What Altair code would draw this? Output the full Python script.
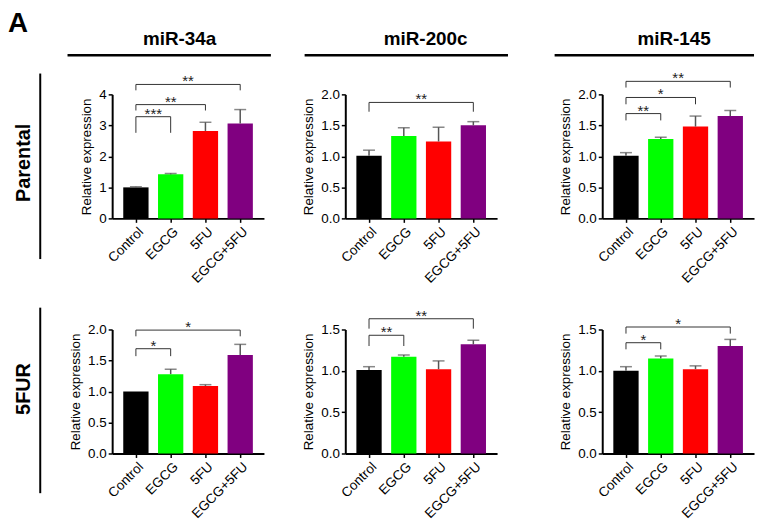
import json
import altair as alt
import pandas as pd

# ---------------- data ----------------
groups = ["Control", "EGCG", "5FU", "EGCG+5FU"]
bar_colors = ["#000000", "#00FF00", "#FF0000", "#800080"]
mirnas = ["miR-34a", "miR-200c", "miR-145"]
row_names = ["Parental", "5FUR"]

# Parental cells: mean and upper error
par_34a = [1.00, 1.42, 2.82, 3.06]
par_34a_err = [0.02, 0.03, 0.28, 0.45]
par_200c = [1.01, 1.33, 1.24, 1.50]
par_200c_err = [0.09, 0.13, 0.23, 0.06]
par_145 = [1.01, 1.28, 1.48, 1.65]
par_145_err = [0.05, 0.03, 0.17, 0.09]

# 5FU-resistant cells
res_34a = [1.00, 1.28, 1.09, 1.59]
res_34a_err = [0.00, 0.08, 0.02, 0.17]
res_200c = [1.01, 1.17, 1.02, 1.32]
res_200c_err = [0.04, 0.02, 0.10, 0.05]
res_145 = [1.00, 1.15, 1.02, 1.30]
res_145_err = [0.05, 0.03, 0.04, 0.08]

# significance brackets: (from group index, to group index, line level, leg end, label)
par_34a_sig = [(0, 1, 3.28, 2.76, "***"), (0, 2, 3.67, 3.48, "**"), (0, 3, 4.32, 4.13, "**")]
par_200c_sig = [(0, 3, 1.87, 1.72, "**")]
par_145_sig = [(0, 1, 1.69, 1.58, "**"), (0, 2, 1.95, 1.84, "*"), (0, 3, 2.21, 2.11, "**")]
res_34a_sig = [(0, 1, 1.69, 1.57, "*"), (0, 3, 1.99, 1.89, "*")]
res_200c_sig = [(0, 1, 1.43, 1.30, "**"), (0, 3, 1.63, 1.51, "**")]
res_145_sig = [(0, 1, 1.34, 1.26, "*"), (0, 3, 1.53, 1.45, "*")]

# y axis ranges / ticks
par_34a_ticks = [0, 1, 2, 3, 4]
half_ticks_2 = [0.0, 0.5, 1.0, 1.5, 2.0]
half_ticks_15 = [0.0, 0.5, 1.0, 1.5]

FONT = "Liberation Sans"
W, H = 153, 125
XDOM = [-0.54, 3.54]
label_expr = json.dumps(groups) + "[datum.value]"


def panel(means, errs, ticks, fmt, sigs, extras):
    df = pd.DataFrame({
        "idx": list(range(len(groups))),
        "group": groups,
        "mean": means,
        "err": errs,
    })
    df["hi"] = df["mean"] + df["err"]
    edf = df[df["err"] > 0]

    xs = alt.Scale(domain=XDOM, nice=False, zero=False)
    ys = alt.Scale(domain=[ticks[0], ticks[-1]], nice=False)
    xax = alt.Axis(values=list(range(len(groups))), labelExpr=label_expr,
                   labelAngle=-45, title=None, labelOverlap=False, labelFlush=False,
                   labelBound=False)
    yax = alt.Axis(values=ticks, format=fmt, title="Relative expression",
                   labelOverlap=False, labelFlush=False)

    bars = alt.Chart(df).mark_bar(size=25.5).encode(
        x=alt.X("idx:Q", scale=xs, axis=xax),
        y=alt.Y("mean:Q", scale=ys, axis=yax),
        color=alt.Color("group:N", scale=alt.Scale(domain=groups, range=bar_colors), legend=None),
    )
    err_rule = alt.Chart(edf).mark_rule(color="#555555", strokeWidth=1.5).encode(
        x=alt.X("idx:Q", scale=xs, axis=xax),
        y=alt.Y("mean:Q", scale=ys, axis=yax),
        y2="hi:Q",
    )
    err_cap = alt.Chart(edf).mark_tick(color="#555555", orient="horizontal",
                                       size=12, thickness=1.5).encode(
        x=alt.X("idx:Q", scale=xs, axis=xax),
        y=alt.Y("hi:Q", scale=ys, axis=yax),
    )

    sdf = pd.DataFrame(sigs, columns=["a", "b", "y", "low", "label"])
    sdf["mid"] = (sdf["a"] + sdf["b"]) / 2
    legs = pd.concat([
        sdf[["a", "y", "low"]].rename(columns={"a": "pos"}),
        sdf[["b", "y", "low"]].rename(columns={"b": "pos"}),
    ])
    hline = alt.Chart(sdf).mark_rule(color="#333333", strokeWidth=1).encode(
        x=alt.X("a:Q", scale=xs, axis=xax),
        x2="b:Q",
        y=alt.Y("y:Q", scale=ys, axis=yax),
    )
    vleg = alt.Chart(legs).mark_rule(color="#333333", strokeWidth=1).encode(
        x=alt.X("pos:Q", scale=xs, axis=xax),
        y=alt.Y("y:Q", scale=ys, axis=yax),
        y2="low:Q",
    )
    stars = alt.Chart(sdf).mark_text(font=FONT, fontSize=15, color="#222222",
                                     baseline="alphabetic", dy=2).encode(
        x=alt.X("mid:Q", scale=xs, axis=xax),
        y=alt.Y("y:Q", scale=ys, axis=yax),
        text="label:N",
    )
    return alt.layer(bars, err_rule, err_cap, hline, vleg, stars, *extras).properties(width=W, height=H)


def col_title(name, cx, x1, x2):
    t = alt.Chart(pd.DataFrame({"t": [name]})).mark_text(
        font=FONT, fontSize=19, fontWeight="bold", color="black", align="center", baseline="alphabetic"
    ).encode(x=alt.value(cx), y=alt.value(-50), text="t:N")
    line = alt.Chart(pd.DataFrame({"t": [name]})).mark_rule(color="black", strokeWidth=2.5).encode(
        x=alt.value(x1), x2=alt.value(x2), y=alt.value(-39.5)
    )
    return [t, line]


def row_title(name, cy, y1, y2):
    t = alt.Chart(pd.DataFrame({"t": [name]})).mark_text(
        font=FONT, fontSize=20, fontWeight="bold", color="black", align="center",
        baseline="middle", angle=270
    ).encode(x=alt.value(-89), y=alt.value(cy), text="t:N")
    line = alt.Chart(pd.DataFrame({"t": [name]})).mark_rule(color="black", strokeWidth=2).encode(
        x=alt.value(-72.5), y=alt.value(y1), y2=alt.value(y2)
    )
    return [t, line]


letter = alt.Chart(pd.DataFrame({"t": ["A"]})).mark_text(
    font=FONT, fontSize=28, fontWeight="bold", color="black", align="left", baseline="top"
).encode(x=alt.value(-105), y=alt.value(-85), text="t:N")

p1 = panel(par_34a, par_34a_err, par_34a_ticks, "d", par_34a_sig,
           [letter] + col_title(mirnas[0], 68, -45, 160) + row_title(row_names[0], 69, -21, 166))
p2 = panel(par_200c, par_200c_err, half_ticks_2, ".1f", par_200c_sig,
           col_title(mirnas[1], 81, -41, 164))
p3 = panel(par_145, par_145_err, half_ticks_2, ".1f", par_145_sig,
           col_title(mirnas[2], 72.5, -48, 153))
p4 = panel(res_34a, res_34a_err, half_ticks_2, ".1f", res_34a_sig,
           row_title(row_names[1], 60, -22, 165))
p5 = panel(res_200c, res_200c_err, half_ticks_15, ".1f", res_200c_sig, [])
p6 = panel(res_145, res_145_err, half_ticks_15, ".1f", res_145_sig, [])


def spacer(w):
    return alt.Chart(pd.DataFrame({"v": [0]})).mark_point(opacity=0).encode(
        x=alt.value(0), y=alt.value(0)
    ).properties(width=w, height=10)


chart = alt.concat(
    p1, spacer(82), p2, spacer(106), p3,
    p4, spacer(82), p5, spacer(106), p6,
    columns=5, spacing={"row": 112, "column": 0}, bounds="flush", align="each",
).properties(padding=0).configure_view(stroke=None).configure_axis(
    domainColor="black", domainWidth=2, tickColor="black", tickWidth=1.5, tickSize=4,
    labelColor="black", labelFont=FONT, labelFontSize=13.5, labelPadding=2,
    titleFont=FONT, titleFontSize=13.5, titleFontWeight="normal", titleColor="black",
    titlePadding=5, grid=False,
)

chart.save("out.html", embed_options={"renderer": "svg", "actions": False})
